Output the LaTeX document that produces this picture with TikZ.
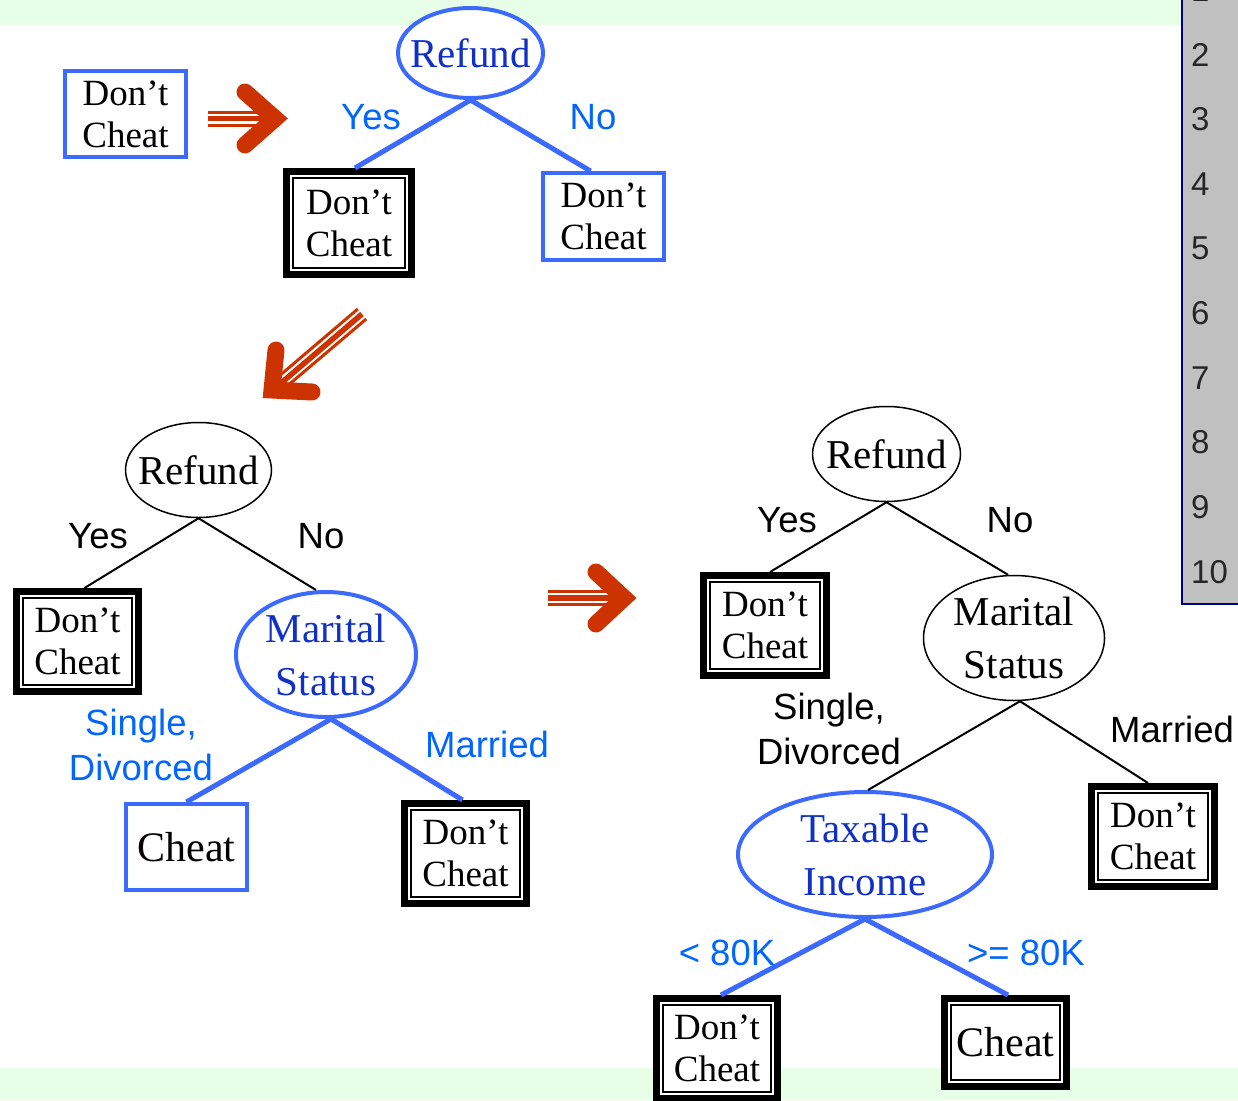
\documentclass[tikz,border=0pt]{standalone}
\usepackage{fontspec}
\setmainfont{Liberation Serif}
\newfontfamily\lblfont{Liberation Sans}
\usetikzlibrary{shapes.geometric}
\definecolor{lineblue}{RGB}{60,105,255}
\definecolor{lblblue}{RGB}{0,102,255}
\definecolor{txtblue}{RGB}{16,48,200}
\definecolor{arrowred}{RGB}{204,51,0}
\definecolor{stripgreen}{RGB}{230,255,230}
\definecolor{colgray}{RGB}{192,192,192}
\definecolor{navyline}{RGB}{0,0,128}
\tikzset{
  dbox/.style={draw=black, line width=7pt, fill=white, inner sep=0pt, align=center,
    font=\fontsize{37}{42}\selectfont,
    path picture={\draw[line width=1.7pt]
      ([shift={(6.3pt,-6.3pt)}]path picture bounding box.north west) rectangle
      ([shift={(-6.3pt,6.3pt)}]path picture bounding box.south east);}},
  bbox/.style={draw=lineblue, line width=4pt, fill=white, inner sep=0pt, align=center,
    font=\fontsize{37}{42}\selectfont},
  bigtext/.style={font=\fontsize{42}{48}\selectfont},
  bell/.style={ellipse, draw=lineblue, line width=4pt, fill=white, inner sep=0pt},
  kell/.style={ellipse, draw=black, line width=1.5pt, fill=white, inner sep=0pt},
  etext/.style={align=center, inner sep=0pt, font=\fontsize{41}{53}\selectfont},
  lbl/.style={align=center, inner sep=0pt, font=\lblfont\fontsize{36.5}{45}\selectfont},
  numlbl/.style={anchor=west, inner sep=0pt, text=black!85, font=\lblfont\fontsize{33}{38}\selectfont},
  bline/.style={draw=lineblue, line width=5pt},
  kline/.style={draw=black, line width=2pt},
  shaftthin/.style={draw=arrowred, line width=3pt},
  shaftmid/.style={draw=arrowred, line width=5.5pt},
  ahead/.style={draw=arrowred, line width=17pt, line cap=round, line join=miter}
}
\begin{document}
\begin{tikzpicture}[x=1pt,y=-1pt]
\useasboundingbox (0,0) rectangle (1238,1100);
% background strips
\fill[stripgreen] (0,0) rectangle (1182,25);
\fill[stripgreen] (0,1068) rectangle (1238,1100);
% gray column
\begin{scope}
\clip (0,0) rectangle (1238,1100);
\fill[colgray] (1182,-20) rectangle (1238,604);
\draw[navyline, line width=2pt] (1182,-20) -- (1182,604) -- (1238,604);
\node[numlbl] (n1) at (1191,-9.6) {1};
\node[numlbl] (n2) at (1191,55) {2};
\node[numlbl] (n3) at (1191,119.6) {3};
\node[numlbl] (n4) at (1191,184.2) {4};
\node[numlbl] (n5) at (1191,248.8) {5};
\node[numlbl] (n6) at (1191,313.4) {6};
\node[numlbl] (n7) at (1191,378) {7};
\node[numlbl] (n8) at (1191,442.6) {8};
\node[numlbl] (n9) at (1191,507.2) {9};
\node[numlbl] (n10) at (1191,571.8) {10};
\end{scope}

% ---------- top tree ----------
\node[bbox, minimum width=121pt, minimum height=86pt] (t0) at (125.5,114) {Don’t\\Cheat};
\draw[shaftthin] (208,112) -- (262,112);
\draw[shaftmid] (208,118.5) -- (268,118.5);
\draw[shaftthin] (208,125) -- (262,125);
\draw[ahead] (245,92) -- (275,118.5) -- (245,145);

\node[bell, minimum width=145pt, minimum height=90pt] (tR) at (470.5,53) {};
\node[etext, text=txtblue] (tRt) at (tR) {Refund};
\node[dbox, minimum width=125pt, minimum height=103pt] (tY) at (349,223) {Don’t\\Cheat};
\node[bbox, minimum width=121pt, minimum height=87pt] (tN) at (603.5,216.5) {Don’t\\Cheat};
\draw[bline] (tR.south) -- ([xshift=6pt]tY.north);
\draw[bline] (tR.south) -- ([xshift=-13pt]tN.north);
\node[lbl, text=lblblue] (tyes) at (371,117) {Yes};
\node[lbl, text=lblblue] (tno) at (593,117) {No};

% diagonal arrow
\draw[shaftthin] (357.8,309) -- (278,377);
\draw[shaftmid] (362,314) -- (280,384);
\draw[shaftthin] (366.2,319) -- (286,387);
\draw[ahead] (276,350) -- (272,390) -- (312,392);

% ---------- middle-left tree ----------
\node[kell, minimum width=146pt, minimum height=95pt] (mR) at (198.5,470) {};
\node[etext] (mRt) at (mR) {Refund};
\node[dbox, minimum width=122pt, minimum height=100pt] (mY) at (77.5,641.5) {Don’t\\Cheat};
\node[bell, minimum width=180pt, minimum height=125pt] (mM) at (326,654.5) {};
\node[etext, text=txtblue] (mMt) at (mM) {Marital\\Status};
\draw[kline] (mR.south) -- ([xshift=7pt]mY.north);
\draw[kline] (mR.south) -- ([xshift=-10pt]mM.north);
\node[lbl] (myes) at (98,536) {Yes};
\node[lbl] (mno) at (321,536) {No};
\node[bbox, bigtext, minimum width=121pt, minimum height=86pt] (mC) at (186.5,847) {Cheat};
\node[dbox, minimum width=122pt, minimum height=100pt] (mN) at (465.5,853.5) {Don’t\\Cheat};
\draw[bline] ([xshift=5pt]mM.south) -- (mC.north);
\draw[bline] ([xshift=5pt]mM.south) -- ([xshift=-3pt]mN.north);
\node[lbl, text=lblblue] (msd) at (141,745) {Single,\\Divorced};
\node[lbl, text=lblblue] (mmar) at (487,744) {Married};

% middle arrow
\draw[shaftthin] (548,591.5) -- (610,591.5);
\draw[shaftmid] (548,598) -- (616,598);
\draw[shaftthin] (548,604.5) -- (610,604.5);
\draw[ahead] (596,572) -- (624,598) -- (596,624);

% ---------- right tree ----------
\node[kell, minimum width=148pt, minimum height=95pt] (rR) at (886.5,454) {};
\node[etext] (rRt) at (rR) {Refund};
\node[dbox, minimum width=123pt, minimum height=100pt] (rY) at (765,625.5) {Don’t\\Cheat};
\node[kell, minimum width=181pt, minimum height=125pt] (rM) at (1014,638) {};
\node[etext] (rMt) at (rM) {Marital\\Status};
\draw[kline] (rR.south) -- ([xshift=5pt]rY.north);
\draw[kline] (rR.south) -- ([xshift=-6pt]rM.north);
\node[lbl] (ryes) at (787,520) {Yes};
\node[lbl] (rno) at (1010,520) {No};
\node[bell, minimum width=254pt, minimum height=125pt] (rT) at (865,854.5) {};
\node[etext, text=txtblue] (rTt) at (rT) {Taxable\\Income};
\node[dbox, minimum width=123pt, minimum height=100pt] (rN) at (1153,836.5) {Don’t\\Cheat};
\draw[kline] ([xshift=6pt]rM.south) -- ([xshift=3pt]rT.north);
\draw[kline] ([xshift=6pt]rM.south) -- ([xshift=-5pt]rN.north);
\node[lbl] (rsd) at (829,729) {Single,\\Divorced};
\node[lbl] (rmar) at (1172,729) {Married};
\node[dbox, minimum width=121pt, minimum height=100pt] (rD) at (717,1048.5) {Don’t\\Cheat};
\node[dbox, bigtext, minimum width=122pt, minimum height=88pt] (rC) at (1005.5,1042.5) {Cheat};
\draw[bline] (rT.south) -- ([xshift=4pt]rD.north);
\draw[bline] (rT.south) -- ([xshift=2.5pt]rC.north);
\node[lbl, text=lblblue] (rlt) at (727,953) {< 80K};
\node[lbl, text=lblblue] (rge) at (1026,953) {>= 80K};
\end{tikzpicture}
\end{document}
